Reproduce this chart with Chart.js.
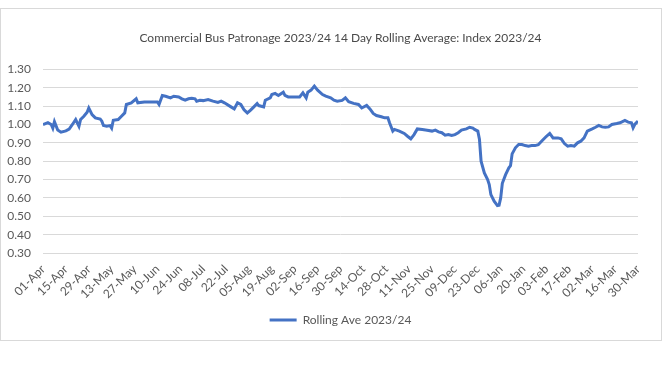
<!DOCTYPE html>
<html>
<head>
<meta charset="utf-8">
<script src="https://cdn.jsdelivr.net/npm/chart.js@4/dist/chart.umd.min.js"></script>
<style>
  html, body { margin: 0; padding: 0; background: #fff; }
  #frame {
    position: absolute; left: 0; top: 8px;
    width: 660px; height: 331px;
    border: 1px solid #d9d9d9;
  }
  #myChart { display: block; }
</style>
</head>
<body>
<div id="frame"><canvas id="myChart" width="660" height="331"></canvas></div>
<script>
const titleText = 'Commercial Bus Patronage 2023/24 14 Day Rolling Average: Index 2023/24';
const seriesLabel = 'Rolling Ave 2023/24';

// x labels, one every 14 days starting 01-Apr
const tickLabels = [
  '01-Apr', '15-Apr', '29-Apr', '13-May', '27-May', '10-Jun', '24-Jun', '08-Jul', '22-Jul',
  '05-Aug', '19-Aug', '02-Sep', '16-Sep', '30-Sep', '14-Oct', '28-Oct', '11-Nov', '25-Nov',
  '09-Dec', '23-Dec', '06-Jan', '20-Jan', '03-Feb', '17-Feb', '02-Mar', '16-Mar', '30-Mar'
];

// day number since 01-Apr
const days = [
  0, 3, 5, 6, 7, 9, 11, 14, 16, 18, 20, 22, 23, 25, 27, 28, 30, 32, 35, 36, 37, 39, 41, 42, 43,
  46, 48, 50, 51, 54, 57, 58, 62, 66, 70, 71, 73, 75, 78, 80, 83, 85, 87, 89, 91, 93, 94, 96,
  98, 101, 104, 107, 109, 111, 115, 117, 119, 121, 123, 125, 127, 129, 131, 132, 135, 136, 139,
  140, 142, 144, 147, 148, 150, 154, 157, 159, 161, 162, 164, 166, 168, 171, 173, 176, 178, 180,
  183, 185, 187, 190, 193, 195, 198, 200, 202, 204, 207, 209, 211, 212, 214, 215, 218, 221, 223,
  225, 227, 229, 232, 235, 238, 240, 242, 244, 246, 248, 250, 252, 254, 256, 259, 261, 263, 264,
  266, 267, 268, 270, 272, 273, 274, 276, 278, 279, 280, 281, 283, 285, 286, 287, 289, 291, 293,
  295, 297, 299, 301, 303, 305, 308, 310, 312, 315, 317, 319, 321, 323, 325, 327, 329, 331, 333,
  336, 338, 340, 342, 344, 346, 348, 351, 353, 356, 358, 360, 361, 362, 364
];
const values = [
  1.00, 1.01, 1.00, 0.98, 1.015, 0.97, 0.958, 0.965, 0.975, 1.00, 1.027, 0.99, 1.027, 1.045, 1.067,
  1.09, 1.054, 1.036, 1.03, 1.018, 0.994, 0.99, 0.994, 0.98, 1.023,
  1.027, 1.045, 1.063, 1.109, 1.118, 1.14, 1.118, 1.123, 1.123, 1.123, 1.109, 1.158, 1.154, 1.145,
  1.154, 1.15, 1.14, 1.133, 1.14, 1.143, 1.14, 1.127, 1.132,
  1.13, 1.136, 1.127, 1.12, 1.127, 1.118, 1.096, 1.085, 1.118, 1.109, 1.08, 1.063, 1.078, 1.096,
  1.114, 1.103, 1.096, 1.132, 1.145,
  1.163, 1.169, 1.158, 1.176, 1.158, 1.15, 1.15, 1.15, 1.172, 1.145, 1.176, 1.187, 1.209, 1.187,
  1.163, 1.154, 1.145, 1.132, 1.127,
  1.131, 1.145, 1.124, 1.115, 1.109, 1.09, 1.104, 1.085, 1.06, 1.049, 1.042, 1.036, 1.036, 1.009,
  0.964, 0.973, 0.964, 0.951, 0.936,
  0.922, 0.945, 0.976, 0.973, 0.969, 0.964, 0.969, 0.96, 0.955, 0.942, 0.945, 0.94, 0.945, 0.955,
  0.969, 0.976, 0.985, 0.98, 0.973,
  0.964, 0.92, 0.80, 0.736, 0.70, 0.673, 0.618, 0.582, 0.558, 0.56, 0.60, 0.68, 0.727, 0.764,
  0.776, 0.84, 0.873, 0.891, 0.891,
  0.885, 0.882, 0.885, 0.885, 0.89, 0.909, 0.936, 0.951, 0.927, 0.927, 0.922, 0.896, 0.882, 0.885,
  0.882, 0.90, 0.909, 0.927, 0.964,
  0.976, 0.985, 0.995, 0.987, 0.985, 0.987, 1.00, 1.005, 1.009, 1.022, 1.013, 1.009, 0.982, 1.00, 1.018
];

const yMin = 0.3, yMax = 1.3, yStep = 0.1;
const lineColor = '#4472C4';
const textColor = '#595959';
const fontFamily = 'Lato, Carlito, "Open Sans", sans-serif';

const ctx = document.getElementById('myChart');
const chart = new Chart(ctx, {
  type: 'line',
  data: {
    datasets: [{
      label: seriesLabel,
      data: days.map((d, i) => ({ x: d, y: values[i] })),
      borderColor: lineColor,
      backgroundColor: lineColor,
      borderWidth: 3,
      pointRadius: 0,
      tension: 0
    }]
  },
  options: {
    responsive: false,
    animation: false,
    devicePixelRatio: 1,
    layout: { padding: { left: 0, right: 23, top: 0, bottom: 4 } },
    plugins: {
      title: {
        display: true,
        fullSize: false,
        text: titleText,
        color: '#4a4a4a',
        font: { family: fontFamily, size: 12, weight: 'normal' },
        padding: { top: 22, bottom: 24 }
      },
      legend: {
        position: 'bottom',
        fullSize: false,
        labels: {
          color: textColor,
          font: { family: fontFamily, size: 12 },
          boxWidth: 27,
          boxHeight: 3,
          generateLabels(c) {
            const items = Chart.defaults.plugins.legend.labels.generateLabels(c);
            items.forEach(it => { it.lineWidth = 0; it.fillStyle = lineColor; });
            return items;
          }
        }
      },
      tooltip: { enabled: false }
    },
    scales: {
      x: {
        type: 'linear',
        min: 0,
        max: 364,
        grid: { display: false, drawTicks: false },
        border: { display: false },
        ticks: {
          stepSize: 14,
          autoSkip: false,
          minRotation: 45,
          maxRotation: 45,
          padding: 9,
          color: textColor,
          font: { family: fontFamily, size: 12 },
          callback: (v) => tickLabels[Math.round(v / 14)] ?? ''
        },
        afterFit(scale) { scale.height = 51; }
      },
      y: {
        min: yMin,
        max: yMax,
        grid: { color: '#d9d9d9', lineWidth: 1, drawTicks: false },
        border: { display: false },
        ticks: {
          stepSize: yStep,
          padding: 12,
          color: textColor,
          font: { family: fontFamily, size: 12 },
          callback: (v) => v.toFixed(2)
        },
        afterFit(scale) { scale.width = 42; }
      }
    }
  }
});
</script>
</body>
</html>
